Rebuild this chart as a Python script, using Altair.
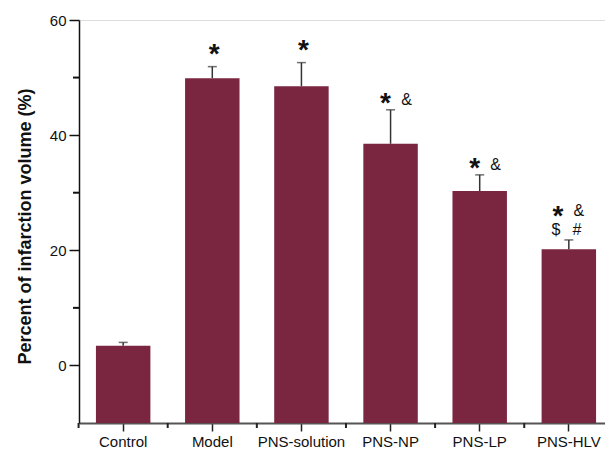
import altair as alt
import pandas as pd

categories = ["Control", "Model", "PNS-solution", "PNS-NP", "PNS-LP", "PNS-HLV"]
means = [3.4, 49.9, 48.5, 38.5, 30.3, 20.2]
errors = [0.6, 2.0, 4.1, 5.9, 2.8, 1.6]
stars = ["", "*", "*", "*", "*", "*"]
amps = ["", "", "", "&", "&", "&"]
dollars = ["", "", "", "", "", "$"]
hashes = ["", "", "", "", "", "#"]
y_major = [0, 20, 40, 60]
y_minor = [10, 30, 50]

df = pd.DataFrame({
    "cat": categories, "mean": means, "err": errors,
    "star": stars, "amp": amps, "dollar": dollars, "hash": hashes,
})
df["top"] = df["mean"] + df["err"]
minor_df = pd.DataFrame({"v": y_minor})

W, H = 526, 403
XR = 534
BAR = "#7B2641"
FONT = "Liberation Sans"

xscale = alt.Scale(paddingInner=0.389, paddingOuter=0.19, range=[0, XR])
yscale = alt.Scale(domain=[-10, 60], nice=False, zero=False)

xaxis = alt.Axis(labelAngle=0, labelFont=FONT, labelFontSize=15, labelColor="#111",
                 tickSize=8, tickColor="#222", tickWidth=1.5, title=None,
                 domainColor="#555", domainWidth=2, labelPadding=3, grid=False)
yaxis = alt.Axis(values=y_major, title="Percent of infarction volume (%)",
                 titleFont=FONT, titleFontSize=18, titleFontWeight="bold",
                 titleColor="#111", titleX=-49, titleY=206, titleBaseline="alphabetic",
                 labelFont=FONT, labelFontSize=15, labelColor="#111",
                 tickSize=10, tickColor="#111", tickWidth=1.5,
                 domainColor="#111", domainWidth=1.5, labelPadding=3, grid=False)

X = alt.X("cat:N", sort=categories, scale=xscale, axis=xaxis)

def Yf(field):
    return alt.Y(f"{field}:Q", scale=yscale, axis=yaxis, stack=None)

base = alt.Chart(df)

bars = base.mark_bar(color=BAR).encode(x=X, y=Yf("mean"), y2=alt.value(H))
err_line = base.mark_rule(color="#333", strokeWidth=1.5).encode(
    x=X, y=Yf("mean"), y2="top:Q")
err_cap = base.mark_tick(color="#333", size=9, thickness=1.5).encode(
    x=X, y=Yf("top"))

def sym(field, filt, dx, dy, size, weight):
    return base.transform_filter(filt).mark_text(
        font=FONT, fontSize=size, fontWeight=weight, color="#111",
        dx=dx, dy=dy, baseline="alphabetic", align="center").encode(
        x=X, y=Yf("top"), text=f"{field}:N")

star_single = sym("star", "datum.star != '' && datum.amp == ''", 2, -4, 28, "bold")
star_amp = sym("star", "datum.amp != '' && datum.dollar == ''", -5, 2, 28, "bold")
amp_amp = sym("amp", "datum.amp != '' && datum.dollar == ''", 16, -5, 16, "normal")
star_two = sym("star", "datum.dollar != ''", -11, -15, 28, "bold")
amp_two = sym("amp", "datum.dollar != ''", 10, -24, 16, "normal")
dollar_t = sym("dollar", "datum.dollar != ''", -13, -5, 16, "normal")
hash_t = sym("hash", "datum.dollar != ''", 8, -5, 16, "normal")

x_minor = base.mark_rule(color="#222", strokeWidth=2, xOffset=-44.6).encode(
    x=X, y=alt.value(H), y2=alt.value(H + 5))
y_minor_ticks = alt.Chart(minor_df).mark_rule(color="#111", strokeWidth=2).encode(
    x=alt.value(-6), x2=alt.value(0), y=Yf("v"))

chart = alt.layer(
    bars, err_line, err_cap, star_single, star_amp, amp_amp, star_two, amp_two,
    dollar_t, hash_t, x_minor, y_minor_ticks
).properties(
    width=W, height=H,
    autosize=alt.AutoSizeParams(type="none"),
    padding={"left": 71, "top": 12, "right": 0, "bottom": 28},
).configure_view(strokeWidth=0).configure(background="white")

chart.save("out.html", embed_options={"renderer": "svg", "actions": False})
